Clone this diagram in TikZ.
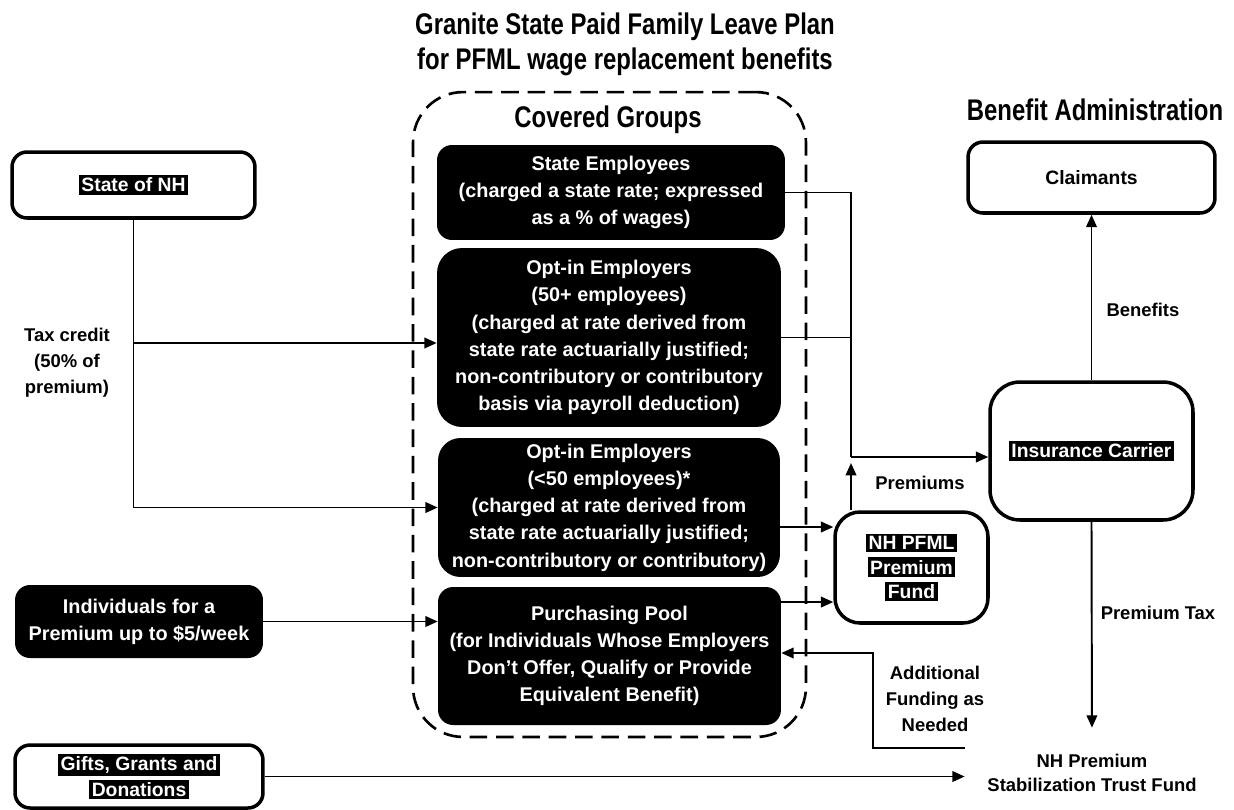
\documentclass[tikz,border=0pt]{standalone}
\usepackage{fontspec}
\setmainfont{Liberation Sans}
\newfontfamily\narrowfont[FakeStretch=0.8]{Liberation Sans}
\usetikzlibrary{arrows.meta}
\newcommand\halotext[1]{{\setlength\fboxsep{1.5pt}\colorbox{black}{\textcolor{white}{#1}}}}
\begin{document}
\begin{tikzpicture}[x=0.02cm,y=-0.02cm,
  blackbox/.style={fill=black,text=white,rounded corners=0.3cm,align=center,inner sep=0pt,
    font=\bfseries\fontsize{11.3}{15.5}\selectfont},
  whitebox/.style={draw,line width=2pt,rounded corners=0.3cm,fill=white,align=center,inner sep=0pt,
    font=\bfseries\fontsize{11}{14}\selectfont},
  lbl/.style={align=center,font=\bfseries\fontsize{10.5}{14.7}\selectfont},
  head/.style={align=center,font=\narrowfont\bfseries\fontsize{17}{20}\selectfont},
  conn/.style={line width=1.1pt},
  arr/.style={conn,-{Triangle[length=7pt,width=6pt]}}]
\fill[white] (0,0) rectangle (1234,809);
\useasboundingbox (0,0) rectangle (1234,809);

% headings
\node[head] (title) at (625,44) {Granite State Paid Family Leave Plan\\for PFML wage replacement benefits};
\node[draw,line width=1.5pt,dash pattern=on 10pt off 5pt,rounded corners=1cm,
  minimum width=7.86cm,minimum height=12.9cm] (plan) at (609.5,414.5) {};
\node[head] (cg) at (608,120) {Covered Groups};
\node[head] (ba) at (1095,110) {Benefit Administration};

% covered groups
\node[blackbox,minimum width=6.96cm,minimum height=1.9cm] (se) at (611,192.5)
  {State Employees\\(charged a state rate; expressed\\as a \% of wages)};
\node[blackbox,rounded corners=0.5cm,minimum width=6.88cm,minimum height=3.58cm] (o1) at (609,337.5)
  {Opt-in Employers\\(50+ employees)\\(charged at rate derived from\\state rate actuarially justified;\\non-contributory or contributory\\basis via payroll deduction)};
\node[blackbox,rounded corners=0.45cm,minimum width=6.84cm,minimum height=2.78cm] (o2) at (609,507.5)
  {Opt-in Employers\\(<50 employees)*\\(charged at rate derived from\\state rate actuarially justified;\\non-contributory or contributory)};
\node[blackbox,minimum width=6.86cm,minimum height=2.76cm] (pool) at (609.5,656)
  {Purchasing Pool\\(for Individuals Whose Employers\\Don't Offer, Qualify or Provide\\Equivalent Benefit)};

% left side
\node[whitebox,minimum width=4.86cm,minimum height=1.32cm] (nh) at (133.5,185) {\halotext{State of NH}};
\node[blackbox,minimum width=4.96cm,minimum height=1.46cm] (ind) at (139,621.5)
  {Individuals for a\\Premium up to \$5/week};
\node[whitebox,minimum width=4.96cm,minimum height=1.26cm,font=\bfseries\fontsize{11}{15}\selectfont] (gifts) at (139,776.5)
  {\halotext{Gifts, Grants and}\\\halotext{Donations}};
\node[lbl] (tax) at (67,363) {Tax credit\\(50\% of\\premium)};

% right side
\node[whitebox,rounded corners=0.5cm,minimum width=3.06cm,minimum height=2.22cm,font=\bfseries\fontsize{11}{14}\selectfont] (fund) at (911.5,567.5)
  {\halotext{NH PFML}\\\halotext{Premium}\\\halotext{Fund}};
\node[whitebox,rounded corners=0.6cm,minimum width=4.06cm,minimum height=2.76cm] (carrier) at (1091.5,451)
  {\halotext{Insurance Carrier}};
\node[whitebox,minimum width=4.94cm,minimum height=1.42cm] (claim) at (1091.5,177.5) {Claimants};
\node[lbl,minimum width=5.08cm,minimum height=1cm,inner sep=0pt,font=\bfseries\fontsize{10.5}{13.5}\selectfont] (trust) at (1092,773)
  {NH Premium\\Stabilization Trust Fund};
\node[lbl] (prem) at (920,483) {Premiums};
\node[lbl] (ben) at (1143,310) {Benefits};
\node[lbl] (ptax) at (1158,613) {Premium Tax};
\node[lbl] (addf) at (935,699) {Additional\\Funding as\\Needed};

% connectors
\coordinate (tc1) at (133,343);
\draw[arr] (nh.south) |- (o2.west);
\draw[arr] (tc1) -- (tc1 -| o1.west);
\draw[arr] (ind.east) -- (ind.east -| pool.west);
\draw[arr] (gifts.east) -- (gifts.east -| trust.west);

\coordinate (pj) at (851,457);
\draw[conn] (se.east) -| (pj);
\draw[conn] (o1.east) -- (o1.east -| pj);
\draw[arr] (pj) -- (pj -| carrier.west);
\draw[arr,shorten >=0.12cm] (fund.north west -| pj) -- (pj);
\draw[arr] ([yshift=-0.39cm]o2.east) -- ([yshift=-0.39cm]o2.east -| fund.west);
\draw[arr] ([yshift=1.08cm]pool.east) -- ([yshift=1.08cm]pool.east -| fund.west);

\coordinate (fa) at (873,653);
\draw[arr] (trust.north west) -| (fa) -- (fa -| pool.east);

\draw[arr] (carrier.north) -- (claim.south);
\draw[arr,shorten >=0.4cm] (carrier.south) -- (trust.north);
\end{tikzpicture}
\end{document}
